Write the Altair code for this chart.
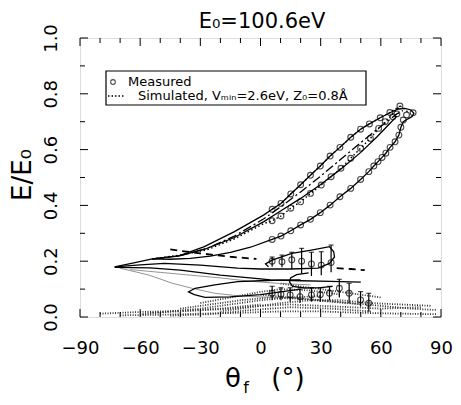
import altair as alt
import pandas as pd

# ---------------- data ----------------
# Measured circles (theta_f in degrees, E/E0)
A_TH = [5.8, 10.2, 15.1, 20.0, 24.9, 29.8, 34.7, 39.6, 45.0, 49.9, 54.3, 59.7, 64.5, 69.5]
A_E = [0.386, 0.407, 0.441, 0.474, 0.508, 0.541, 0.577, 0.608, 0.644, 0.673, 0.692, 0.714, 0.733, 0.756]

B_TH = [5.8, 10.2, 15.1, 20.0, 24.9, 30.3, 35.2, 40.1, 45.0, 49.9, 54.8, 58.9, 62.2, 66.0, 68.0]
B_E = [0.345, 0.362, 0.390, 0.413, 0.443, 0.473, 0.503, 0.533, 0.569, 0.605, 0.640, 0.676, 0.700, 0.718, 0.728]

C_TH = [5.8, 10.2, 15.1, 20.0, 24.9, 29.8, 34.7, 39.6, 45.0, 49.9, 54.0, 56.5, 58.6, 60.6, 62.5,
        64.6, 67.1, 69.0, 70.0, 71.2, 72.8, 76.1]
C_E = [0.278, 0.290, 0.309, 0.330, 0.350, 0.374, 0.401, 0.431, 0.461, 0.493, 0.521, 0.541, 0.557,
       0.572, 0.587, 0.608, 0.628, 0.652, 0.680, 0.706, 0.724, 0.732]

# Measured points with error bars
M_TH = [5.8, 10.7, 15.6, 20.5, 25.4, 30.3, 35.2]
M_E = [0.200, 0.198, 0.205, 0.200, 0.190, 0.186, 0.195]
M_LO = [0.180, 0.178, 0.172, 0.155, 0.147, 0.150, 0.160]
M_HI = [0.215, 0.222, 0.232, 0.246, 0.232, 0.234, 0.258]

L_TH = [5.8, 10.2, 14.8, 19.7, 25.4, 29.8, 34.4, 39.3, 44.2, 49.9, 54.0]
L_E = [0.085, 0.082, 0.079, 0.073, 0.079, 0.080, 0.085, 0.103, 0.085, 0.061, 0.049]
L_LO = [0.060, 0.060, 0.055, 0.050, 0.055, 0.055, 0.060, 0.070, 0.050, 0.037, 0.019]
L_HI = [0.110, 0.105, 0.105, 0.100, 0.105, 0.105, 0.110, 0.135, 0.121, 0.091, 0.085]

# Simulated trajectories (theta_f, E/E0), each with its line style
LINES = {
    "loopAC": ("solid",
               [-72.7, -62, -54, -41, -28, -13, 1.7, 5.8, 10.2, 15.1, 20.0, 24.9, 29.8, 34.7, 39.6, 45.0,
                49.9, 54.3, 59.7, 64.5, 68.5, 72, 75, 76.5, 75.5, 73, 71.2, 70, 69, 67.1, 64.6, 62.5, 60.6,
                58.6, 56.5, 54, 49.9, 45, 39.6, 34.7, 29.8, 24.9, 20, 15.1, 10.2, 5.8, -5, -15, -25, -35,
                -45, -54],
               [0.180, 0.196, 0.208, 0.218, 0.252, 0.306, 0.366, 0.386, 0.407, 0.441, 0.474, 0.508, 0.541,
                0.577, 0.608, 0.644, 0.673, 0.692, 0.714, 0.732, 0.745, 0.748, 0.742, 0.730, 0.718, 0.708,
                0.700, 0.680, 0.652, 0.628, 0.608, 0.587, 0.572, 0.557, 0.541, 0.521, 0.493, 0.461, 0.431,
                0.401, 0.374, 0.350, 0.330, 0.309, 0.290, 0.278, 0.250, 0.232, 0.218, 0.210, 0.207, 0.208]),
    "Bdot": ("dotted",
             [-54, -40, -27, -13, 1.7, 5.8, 10.2, 15.1, 20, 24.9, 30.3, 35.2, 40.1, 45, 49.9, 54.8, 58.9,
              62.2, 66, 69.5, 72, 74],
             [0.208, 0.222, 0.240, 0.280, 0.335, 0.345, 0.362, 0.390, 0.413, 0.443, 0.473, 0.503, 0.533,
              0.569, 0.605, 0.640, 0.676, 0.700, 0.728, 0.757, 0.745, 0.730]),
    "Adot": ("dotted", A_TH, A_E),
    "Bsolid": ("solid",
               [-54, -40, -27, -13, 1.7, 10, 20, 30, 40, 50, 58, 64, 68],
               [0.208, 0.220, 0.245, 0.285, 0.342, 0.380, 0.425, 0.475, 0.530, 0.590, 0.645, 0.690, 0.720]),
    "ABdashdot": ("dashdot",
                  [-40, -27, -13, 1.7, 10, 20, 30, 40, 50, 58, 64, 68, 71],
                  [0.220, 0.245, 0.290, 0.352, 0.395, 0.448, 0.505, 0.565, 0.625, 0.672, 0.705, 0.728, 0.740]),
    "dashUpper": ("dashed", [-45, -30, -15, -2], [0.242, 0.228, 0.216, 0.208]),
    "dashRight": ("dashed", [38, 45, 52], [0.175, 0.172, 0.168]),
    "fan": ("solid",
            [-72.7, -60, -48, -30, -11.4, 0, 15, 28.7, 34.4, 36.9, 36.5, 34.4, 25.4, 15.6, 5.8, 2.5, 4],
            [0.180, 0.187, 0.192, 0.186, 0.175, 0.172, 0.172, 0.175, 0.192, 0.215, 0.234, 0.252, 0.240,
             0.228, 0.204, 0.190, 0.180]),
    "lower": ("solid",
              [-72.7, -55, -40, -20, 0, 5, 20, 35, 50],
              [0.178, 0.176, 0.168, 0.150, 0.137, 0.133, 0.130, 0.128, 0.125]),
    "lasso": ("solid",
              [20, 10, 0, -11.4, -22.8, -32.6, -35.9, -33, -27.7, -15, 0, 10, 20],
              [0.133, 0.132, 0.130, 0.127, 0.115, 0.103, 0.090, 0.080, 0.070, 0.072, 0.080, 0.090, 0.100]),
    "smallLoop": ("solid",
                  [24, 18, 15, 14.5, 16, 22, 30, 36],
                  [0.158, 0.152, 0.140, 0.125, 0.110, 0.104, 0.105, 0.110]),
    "thin": ("gray",
             [-70, -55.5, -44, -34.2, -22.8, -10, 0, 10],
             [0.175, 0.150, 0.121, 0.103, 0.085, 0.075, 0.072, 0.070]),
    "thin2": ("gray",
              [-65, -50, -35, -20, -5, 10, 25],
              [0.170, 0.160, 0.150, 0.140, 0.128, 0.120, 0.115]),
    "N1": ("noise", [-70, -50, -30, -10, 10, 30, 50, 70, 88],
           [0.006, 0.008, 0.012, 0.015, 0.020, 0.020, 0.015, 0.012, 0.010]),
    "N2": ("noise", [-55, -35, -15, 0, 15, 30, 45, 60, 80],
           [0.015, 0.022, 0.030, 0.040, 0.045, 0.040, 0.035, 0.030, 0.035]),
    "N3": ("noise", [-40, -25, -10, 5, 20, 35, 50],
           [0.030, 0.045, 0.060, 0.070, 0.065, 0.055, 0.045]),
    "N4": ("noise", [-30, -15, 0, 10, 25, 40],
           [0.050, 0.070, 0.090, 0.100, 0.095, 0.080]),
    "N5": ("noise", [-20, -5, 10, 25, 40, 55, 70, 85],
           [0.020, 0.035, 0.050, 0.060, 0.060, 0.050, 0.045, 0.040]),
    "N6": ("noise", [-60, -45, -30, -15, 0, 15, 30],
           [0.010, 0.020, 0.030, 0.045, 0.060, 0.070, 0.075]),
    "N7": ("noise", [0, 15, 30, 45, 60, 75, 88],
           [0.080, 0.070, 0.060, 0.050, 0.040, 0.030, 0.025]),
    "N8": ("noise", [-45, -25, -5, 15, 35, 55],
           [0.005, 0.010, 0.025, 0.035, 0.030, 0.020]),
    "N9": ("noise", [10, 20, 30, 40, 50, 60],
           [0.120, 0.110, 0.100, 0.090, 0.080, 0.070]),
    "N10": ("noise", [-80, -60, -40, -20, 0],
            [0.012, 0.018, 0.022, 0.030, 0.045]),
}

X_TICKS = list(range(-90, 91, 10))
X_MAJOR = list(range(-90, 91, 30))
Y_TICKS = [round(0.1 * i, 1) for i in range(11)]
Y_MAJOR = [0.0, 0.2, 0.4, 0.6, 0.8, 1.0]

W, H = 361, 279
FONT = "DejaVu Sans"

# ---------------- build tables ----------------
rows = []
for name, (style, th, e) in LINES.items():
    for i, (t, v) in enumerate(zip(th, e)):
        rows.append({"line": name, "style": style, "o": i, "theta": t, "E": v})
lines_df = pd.DataFrame(rows)

circ_df = pd.DataFrame({"theta": A_TH + B_TH + C_TH + M_TH + L_TH,
                        "E": A_E + B_E + C_E + M_E + L_E})
err_df = pd.DataFrame({"theta": M_TH + L_TH, "lo": M_LO + L_LO, "hi": M_HI + L_HI})

xs = alt.Scale(domain=[-90, 90], nice=False, zero=False)
ys = alt.Scale(domain=[0, 1], nice=False, zero=False)

base_x = alt.X("theta:Q", scale=xs,
               axis=alt.Axis(values=X_MAJOR, title=None, grid=False, domain=False, ticks=False,
                             labelFlush=False, labelFontSize=18, labelFont=FONT, labelPadding=22,
                             labelColor="black"))
base_y = alt.Y("E:Q", scale=ys,
               axis=alt.Axis(values=Y_MAJOR, title=None, grid=False, domain=False, ticks=False,
                             labelFlush=False, format=".1f", labelAngle=270, labelAlign="center",
                             labelBaseline="bottom", labelFontSize=18, labelFont=FONT, labelPadding=20,
                             labelColor="black"))

styles = {
    "solid": dict(strokeWidth=1.3, color="black"),
    "dotted": dict(strokeWidth=1.4, color="black", strokeDash=[1.5, 2.5]),
    "dashdot": dict(strokeWidth=1.3, color="black", strokeDash=[9, 3, 2, 3]),
    "dashed": dict(strokeWidth=1.8, color="black", strokeDash=[7, 5]),
    "gray": dict(strokeWidth=0.8, color="#777777"),
    "noise": dict(strokeWidth=1.8, color="#333333", strokeDash=[1, 1.5]),
}

layers = []
for st in ["noise", "gray", "solid", "dotted", "dashdot", "dashed"]:
    layers.append(
        alt.Chart(lines_df[lines_df["style"] == st]).mark_line(**styles[st]).encode(
            x=base_x, y=base_y, detail="line:N", order="o:Q")
    )

errs = alt.Chart(err_df).mark_rule(color="black", strokeWidth=1.2).encode(
    x=alt.X("theta:Q", scale=xs), y=alt.Y("lo:Q", scale=ys), y2="hi:Q")
caps = alt.Chart(err_df).mark_tick(color="black", thickness=1.2, size=5, orient="horizontal").encode(
    x=alt.X("theta:Q", scale=xs), y=alt.Y("hi:Q", scale=ys))
circles = alt.Chart(circ_df).mark_point(shape="circle", filled=False, size=34, color="black",
                                        strokeWidth=1.1).encode(
    x=alt.X("theta:Q", scale=xs), y=alt.Y("E:Q", scale=ys))

# frame ticks (inward)
xt = pd.DataFrame({"t": X_TICKS, "major": [t in X_MAJOR for t in X_TICKS]})
yt = pd.DataFrame({"t": Y_TICKS, "major": [t in Y_MAJOR for t in Y_TICKS]})
tick_layers = []
for top in (True, False):
    for maj, ln in ((True, 8), (False, 5)):
        d = xt[xt["major"] == maj]
        y0 = 0 if top else H
        y1 = ln if top else H - ln
        tick_layers.append(alt.Chart(d).mark_rule(color="black", strokeWidth=1).encode(
            x=alt.X("t:Q", scale=xs), y=alt.value(y0), y2=alt.value(y1)))
for left in (True, False):
    for maj, ln in ((True, 8), (False, 5)):
        d = yt[yt["major"] == maj]
        x0 = 0 if left else W
        x1 = ln if left else W - ln
        tick_layers.append(alt.Chart(d).mark_rule(color="black", strokeWidth=1).encode(
            y=alt.Y("t:Q", scale=ys), x=alt.value(x0), x2=alt.value(x1)))

one = pd.DataFrame({"k": [0]})

def txt(s, x, y, size, align="center", baseline="middle", angle=0, color="black"):
    kw = dict(font=FONT, fontSize=size, align=align, baseline=baseline, color=color)
    if angle:
        kw["angle"] = angle
    return alt.Chart(one).mark_text(**kw).encode(x=alt.value(x), y=alt.value(y), text=alt.value(s))

legend_box = alt.Chart(one).mark_rect(fill="white", stroke="black", strokeWidth=1.2).encode(
    x=alt.value(26), x2=alt.value(286), y=alt.value(33), y2=alt.value(67))
legend_circle = alt.Chart(one).mark_point(shape="circle", filled=False, size=22, color="black",
                                          strokeWidth=1.1).encode(x=alt.value(33), y=alt.value(44))
legend_line = alt.Chart(one).mark_rule(color="black", strokeWidth=1.4, strokeDash=[1.5, 2]).encode(
    x=alt.value(28), x2=alt.value(44), y=alt.value(58))

texts = [
    legend_box, legend_circle, legend_line,
    txt("Measured", 48, 44, 13, align="left"),
    txt("Simulated,  Vₘᵢₙ=2.6eV,  Z₀=0.8Å", 58, 58, 13, align="left"),
    txt("E₀=100.6eV", 182, -10, 21, baseline="alphabetic"),
    txt("E/E₀", -57, 137, 26, angle=270),
    txt("θ", 153, 341, 26),
    txt("f", 166, 350, 16),
    txt("(°)", 208, 341, 26),
]

chart = alt.layer(*layers, errs, caps, circles, *tick_layers, *texts).properties(
    width=W, height=H,
    autosize=alt.AutoSizeParams(type="none"),
    padding={"left": 72, "top": 30, "right": 12, "bottom": 80},
).configure_view(stroke="black", strokeWidth=1.2).configure(background="white")

chart.save("out.html", embed_options={"renderer": "svg", "actions": False})
